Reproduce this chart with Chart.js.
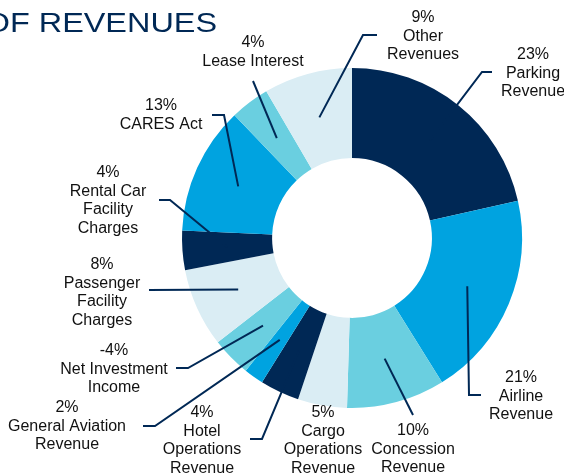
<!DOCTYPE html>
<html>
<head>
<meta charset="utf-8">
<script src="https://cdn.jsdelivr.net/npm/chart.js@4/dist/chart.umd.min.js"></script>
<style>
  html, body { margin: 0; padding: 0; background: #fff; }
  canvas { display: block; }
</style>
</head>
<body>
<canvas id="revChart" width="564" height="476"></canvas>
<script>
// --------------------------------------------
// Fuentes de ingresos - dona con etiquetas externas
// --------------------------------------------

const categories = [
    ['Parking', 'Revenue'],
    ['Airline', 'Revenue'],
    ['Concession', 'Revenue'],
    ['Cargo', 'Operations', 'Revenue'],
    ['Hotel', 'Operations', 'Revenue'],
    ['General Aviation', 'Revenue'],
    ['Net Investment', 'Income'],
    ['Passenger', 'Facility', 'Charges'],
    ['Rental Car', 'Facility', 'Charges'],
    ['CARES Act'],
    ['Lease Interest'],
    ['Other', 'Revenues']
];

// porcentaje mostrado en la etiqueta (Net Investment es negativo)
const percents = [23, 21, 10, 5, 4, 2, -4, 8, 4, 13, 4, 9];

const NAVY = '#002855';
const BLUE = '#00a3e0';
const CYAN = '#6acfe0';
const PALE = '#daedf4';
const sliceColors = [NAVY, BLUE, CYAN, PALE, NAVY, BLUE, CYAN, PALE, NAVY, BLUE, CYAN, PALE];

// posicion de cada etiqueta: codo de la guia, fin de la guia, centro del texto
const labelLayout = [
    { elbow: [482, 72],  end: [492, 72],  tx: 533, ty: 55 },
    { elbow: [469, 395], end: [481, 395], tx: 521, ty: 378 },
    { elbow: null,       end: [413, 415], tx: 413, ty: 431 },
    { elbow: null,       end: null,       tx: 323, ty: 413 },
    { elbow: [262, 439], end: [250, 439], tx: 202, ty: 413 },
    { elbow: [155, 426], end: [143, 426], tx: 67,  ty: 408 },
    { elbow: [188, 368], end: [176, 368], tx: 114, ty: 351 },
    { elbow: null,       end: [149, 290], tx: 102, ty: 265 },
    { elbow: [170, 200], end: [159, 200], tx: 108, ty: 173 },
    { elbow: [224, 115], end: [212, 115], tx: 161, ty: 106 },
    { elbow: null,       end: [253, 81],  tx: 253, ty: 43 },
    { elbow: [363, 35],  end: [377, 35],  tx: 423, ty: 18 }
];

const LINE_H = 18.4;

const outerLabels = {
    id: 'outerLabels',
    afterDraw(chart) {
        const ctx = chart.ctx;
        const arcs = chart.getDatasetMeta(0).data;

        ctx.save();
        // guias (mismo azul marino que las rebanadas oscuras)
        ctx.strokeStyle = NAVY;
        ctx.lineWidth = 2;
        arcs.forEach((arc, i) => {
            const lay = labelLayout[i];
            if (!lay.end) return;
            const p = arc.getCenterPoint();
            ctx.beginPath();
            ctx.moveTo(p.x, p.y);
            if (lay.elbow) ctx.lineTo(lay.elbow[0], lay.elbow[1]);
            ctx.lineTo(lay.end[0], lay.end[1]);
            ctx.stroke();
        });

        // textos
        ctx.fillStyle = '#111';
        ctx.font = '16px "Liberation Sans", Arial, sans-serif';
        ctx.textAlign = 'center';
        ctx.textBaseline = 'middle';
        categories.forEach((lines, i) => {
            const lay = labelLayout[i];
            const all = [percents[i] + '%', ...lines];
            all.forEach((t, k) => ctx.fillText(t, lay.tx, lay.ty + k * LINE_H));
        });

        // titulo (cortado a la izquierda como en la diapositiva)
        ctx.fillStyle = NAVY;
        ctx.font = '27px "Liberation Sans", Arial, sans-serif';
        ctx.textAlign = 'right';
        ctx.textBaseline = 'alphabetic';
        ctx.translate(217, 32);
        ctx.scale(1.2, 1);
        ctx.fillText('OF REVENUES', 0, 0);
        ctx.restore();
    }
};

new Chart(document.getElementById('revChart'), {
    type: 'doughnut',
    data: {
        labels: categories.map(l => l.join(' ')),
        datasets: [{
            data: percents.map(Math.abs),
            backgroundColor: sliceColors,
            borderWidth: 0
        }]
    },
    options: {
        responsive: false,
        animation: false,
        cutout: '47%',
        layout: { padding: { left: 182, right: 42, top: 68, bottom: 68 } },
        plugins: {
            legend: { display: false },
            tooltip: { enabled: false }
        }
    },
    plugins: [outerLabels]
});
</script>
</body>
</html>
